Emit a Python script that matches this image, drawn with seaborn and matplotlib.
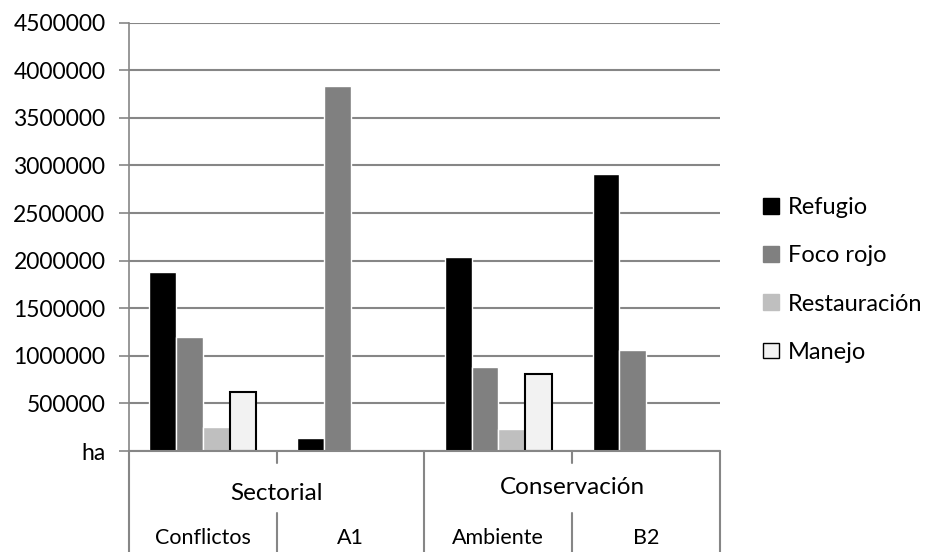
import pandas as pd
import numpy as np
import seaborn as sns
import matplotlib.pyplot as plt
from matplotlib.patches import Patch

# data (ha)
categories = ["Conflictos", "A1", "Ambiente", "B2"]
groups = ["Sectorial", "Conservación"]
series = ["Refugio", "Foco rojo", "Restauración", "Manejo"]
refugio = [1884000, 133000, 2041000, 2913000]
foco_rojo = [1203000, 3830000, 881000, 1056000]
restauracion = [249000, 0, 228000, 0]
manejo = [617000, 0, 808000, 0]

colors = ["#000000", "#808080", "#bfbfbf", "#f2f2f2"]

df = pd.DataFrame({"Categoria": categories * 4,
                   "Serie": np.repeat(series, 4),
                   "Valor": refugio + foco_rojo + restauracion + manejo})

sns.set_style("white")
plt.rcParams['font.family'] = ['Lato', 'DejaVu Sans']
plt.rcParams['font.size'] = 16
plt.rcParams['text.color'] = "#000000"

fig = plt.figure(figsize=(9.28, 5.52), dpi=100)
ax = fig.add_axes([129/928, 1-451/552, (720-129)/928, (451-22.7)/552])

sns.barplot(data=df, x="Categoria", y="Valor", hue="Serie", order=categories,
            hue_order=series, palette=colors, width=0.725, saturation=1,
            legend=False, ax=ax)

# black outline only for the Manejo bars that exist
for bar, v in zip(ax.containers[3], manejo):
    if v > 0:
        bar.set_edgecolor("black")
        bar.set_linewidth(1.5)

grid_c = "#868686"
ax.set_ylim(0, 4500000)
ax.set_xlim(-0.5, 3.5)
yt = np.arange(0, 4500001, 500000)
ax.set_yticks(yt)
ax.set_yticklabels(["ha"] + [str(v) for v in yt[1:]])
ax.yaxis.grid(True, color=grid_c, linewidth=1.5)
ax.set_axisbelow(True)
ax.tick_params(axis="y", length=7, width=1.2, color=grid_c, labelsize=16.5,
               labelcolor="black", pad=10, left=True)
ax.tick_params(axis="x", bottom=False, labelbottom=False)
ax.set_xlabel("")
ax.set_ylabel("")
for s in ["top", "right", "bottom"]:
    ax.spines[s].set_visible(False)
ax.spines["left"].set_color(grid_c)
ax.spines["left"].set_linewidth(1.2)

# two-level category axis drawn under the plot
tr = ax.get_xaxis_transform()
line_kw = dict(color=grid_c, linewidth=1.5, transform=tr, clip_on=False)
for x in [-0.5, 1.5, 3.5]:
    ax.plot([x, x], [0, -0.236], **line_kw)
for x in [0.5, 2.5]:
    ax.plot([x, x], [0, -0.028], **line_kw)
    ax.plot([x, x], [-0.145, -0.236], **line_kw)
ax.plot([-0.5, 3.5], [0, 0], **line_kw)

ax.text(0.5, -0.1, groups[0], transform=tr, ha="center", va="center", fontsize=17.5)
ax.text(2.5, -0.086, groups[1], transform=tr, ha="center", va="center", fontsize=17.5)
for i, c in enumerate(categories):
    ax.text(i, -0.203, c, transform=tr, ha="center", va="center", fontsize=15.5)

handles = [Patch(facecolor=colors[i], edgecolor="black" if i == 3 else colors[i],
                 linewidth=1.0) for i in range(4)]
fig.legend(handles, series, loc="center left", bbox_to_anchor=(742/928, 1-280/552),
           frameon=False, handlelength=0.65, handleheight=0.65, handletextpad=0.4,
           labelspacing=1.15, fontsize=17)

fig.savefig("out.png", dpi=100)
